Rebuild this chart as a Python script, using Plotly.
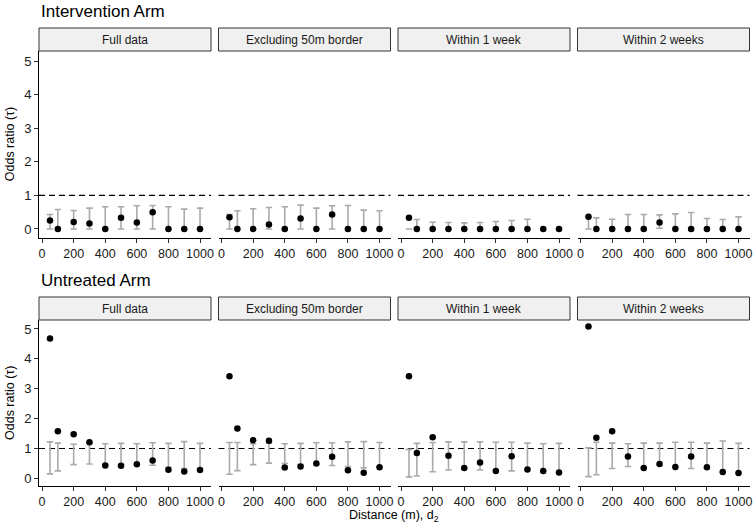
import plotly.graph_objects as go

# ---------------- data ----------------
distances = [50, 100, 200, 300, 400, 500, 600, 700, 800, 900, 1000]
x_ticks = [0, 200, 400, 600, 800, 1000]
y_ticks = [0, 1, 2, 3, 4, 5]
panels = ["Full data", "Excluding 50m border", "Within 1 week", "Within 2 weeks"]
arms = ["Intervention Arm", "Untreated Arm"]

# Intervention arm
int_full_est = [0.25, 0, 0.21, 0.16, 0, 0.33, 0.19, 0.50, 0, 0, 0]
int_full_lo = [0, 0, 0, 0, 0, 0, 0, 0, 0, 0, 0]
int_full_hi = [0.43, 0.58, 0.55, 0.62, 0.66, 0.66, 0.69, 0.70, 0.66, 0.59, 0.62]

int_excl_est = [0.35, 0, 0, 0.13, 0, 0.31, 0, 0.43, 0, 0, 0]
int_excl_lo = [0, 0, 0, 0, 0, 0, 0, 0, 0, 0, 0]
int_excl_hi = [0.43, 0.54, 0.60, 0.64, 0.66, 0.71, 0.62, 0.69, 0.70, 0.56, 0.54]

int_wk1_est = [0.33, 0, 0, 0, 0, 0, 0, 0, 0, 0, 0]
int_wk1_lo = [0, 0, 0, 0, 0, 0, 0, 0, 0, 0, 0]
int_wk1_hi = [0, 0.28, 0.20, 0.19, 0.18, 0.19, 0.22, 0.25, 0.29, 0, 0]

int_wk2_est = [0.36, 0, 0, 0, 0, 0.19, 0, 0, 0, 0, 0]
int_wk2_lo = [0, 0, 0, 0, 0, 0.02, 0, 0, 0, 0, 0]
int_wk2_hi = [0.35, 0.33, 0.29, 0.43, 0.43, 0.42, 0.45, 0.49, 0.31, 0.28, 0.36]

# Untreated arm
unt_full_est = [4.68, 1.58, 1.48, 1.21, 0.43, 0.42, 0.47, 0.60, 0.29, 0.23, 0.28]
unt_full_lo = [0.15, 0.25, 0.46, 0.48, 0.46, 0.46, 0.46, 0.44, 0.37, 0.33, 0.30]
unt_full_hi = [1.22, 1.18, 1.14, 1.18, 1.16, 1.17, 1.16, 1.19, 1.17, 1.23, 1.17]

unt_excl_est = [3.42, 1.67, 1.28, 1.26, 0.36, 0.40, 0.50, 0.72, 0.27, 0.19, 0.37]
unt_excl_lo = [0.14, 0.26, 0.46, 0.51, 0.50, 0.46, 0.47, 0.43, 0.40, 0.35, 0.37]
unt_excl_hi = [1.20, 1.20, 1.16, 1.18, 1.16, 1.17, 1.19, 1.19, 1.22, 1.23, 1.20]

unt_wk1_est = [3.42, 0.85, 1.38, 0.76, 0.35, 0.53, 0.25, 0.74, 0.30, 0.25, 0.20]
unt_wk1_lo = [0.05, 0.08, 0.22, 0.28, 0.33, 0.28, 0.25, 0.25, 0.29, 0.24, 0.19]
unt_wk1_hi = [0.97, 1.17, 1.20, 1.22, 1.22, 1.22, 1.21, 1.21, 1.18, 1.16, 1.17]

unt_wk2_est = [5.08, 1.36, 1.58, 0.73, 0.35, 0.48, 0.38, 0.73, 0.37, 0.21, 0.18]
unt_wk2_lo = [0.06, 0.12, 0.33, 0.40, 0.35, 0.45, 0.37, 0.33, 0.36, 0.21, 0.18]
unt_wk2_hi = [1.02, 1.21, 1.18, 1.16, 1.18, 1.18, 1.21, 1.21, 1.18, 1.25, 1.17]

series = [
    [(int_full_est, int_full_lo, int_full_hi), (int_excl_est, int_excl_lo, int_excl_hi),
     (int_wk1_est, int_wk1_lo, int_wk1_hi), (int_wk2_est, int_wk2_lo, int_wk2_hi)],
    [(unt_full_est, unt_full_lo, unt_full_hi), (unt_excl_est, unt_excl_lo, unt_excl_hi),
     (unt_wk1_est, unt_wk1_lo, unt_wk1_hi), (unt_wk2_est, unt_wk2_lo, unt_wk2_hi)],
]

# ---------------- layout geometry ----------------
W, H = 755, 526
ML, MR = 39, 5
PW = W - ML - MR  # plotting width in px
FONT = "Liberation Sans, Arial, Helvetica, sans-serif"

col_px = [(39, 211), (218.5, 390.5), (398, 570), (577.5, 749.5)]
row_px = [(51, 237.5), (320, 486)]      # panel top, bottom
strip_px = [(28, 51), (297, 320)]
title_y_px = [12, 280]

def px2x(p):
    return (p - ML) / PW

def px2y(p):
    return 1 - p / H

fig = go.Figure()
layout = dict(
    width=W, height=H,
    margin=dict(l=ML, r=MR, t=0, b=0),
    paper_bgcolor="white", plot_bgcolor="white",
    showlegend=False,
    font=dict(family=FONT, color="#1a1a1a"),
)
shapes = []
annotations = []

XR = [-19.5, 1069.5]
YR = [-0.255, 5.30]

for r in range(2):
    for c in range(4):
        k = r * 4 + c + 1
        xa = "xaxis" if k == 1 else f"xaxis{k}"
        ya = "yaxis" if k == 1 else f"yaxis{k}"
        xref = "x" if k == 1 else f"x{k}"
        yref = "y" if k == 1 else f"y{k}"
        layout[xa] = dict(
            domain=[px2x(col_px[c][0]), px2x(col_px[c][1])],
            anchor=yref, range=XR, tickvals=x_ticks,
            ticktext=[str(v) for v in x_ticks],
            showline=True, linecolor="black", linewidth=1,
            ticks="outside", ticklen=4, tickwidth=1, tickcolor="#333333",
            tickfont=dict(size=12.5, color="#1a1a1a", family=FONT),
            showgrid=False, zeroline=False, fixedrange=True,
        )
        layout[ya] = dict(
            domain=[px2y(row_px[r][1]), px2y(row_px[r][0])],
            anchor=xref, range=YR, tickvals=y_ticks,
            showline=(c == 0), linecolor="black", linewidth=1,
            ticks="outside" if c == 0 else "", ticklen=4, tickwidth=1,
            tickcolor="#333333", showticklabels=(c == 0),
            tickfont=dict(size=13, color="#1a1a1a", family=FONT),
            showgrid=False, zeroline=False, fixedrange=True,
        )
        est, lo, hi = series[r][c]
        # error bars (from lo to hi)
        fig.add_trace(go.Scatter(
            x=distances, y=lo, mode="markers",
            marker=dict(size=1, color="rgba(0,0,0,0)"),
            error_y=dict(type="data", symmetric=False,
                         array=[h - l for h, l in zip(hi, lo)],
                         arrayminus=[0] * len(lo),
                         color="#AAAAAA", thickness=1.6, width=3.2),
            xaxis=xref, yaxis=yref, hoverinfo="skip",
        ))
        # point estimates
        fig.add_trace(go.Scatter(
            x=distances, y=est, mode="markers",
            marker=dict(size=6.5, color="black"),
            xaxis=xref, yaxis=yref,
        ))
        # dashed reference line at 1
        shapes.append(dict(
            type="line", xref=f"{xref} domain", yref=yref,
            x0=0, x1=1, y0=1, y1=1, layer="below",
            line=dict(color="black", width=1.2, dash="6px,4px"),
        ))
        # strip
        shapes.append(dict(
            type="rect", xref="paper", yref="paper",
            x0=px2x(col_px[c][0]), x1=px2x(col_px[c][1]),
            y0=px2y(strip_px[r][1]), y1=px2y(strip_px[r][0]),
            fillcolor="#F0F0F0", line=dict(color="#333333", width=1),
        ))
        annotations.append(dict(
            text=panels[c], xref="paper", yref="paper",
            x=px2x((col_px[c][0] + col_px[c][1]) / 2),
            y=px2y((strip_px[r][0] + strip_px[r][1]) / 2),
            xanchor="center", yanchor="middle", showarrow=False,
            font=dict(size=12, color="#1a1a1a", family=FONT),
        ))
    # row title
    annotations.append(dict(
        text=arms[r], xref="paper", yref="paper",
        x=0, y=px2y(title_y_px[r]), xanchor="left", yanchor="middle",
        showarrow=False, font=dict(size=17, color="black", family=FONT),
    ))
    # y axis title
    annotations.append(dict(
        text="Odds ratio (τ)", xref="paper", yref="paper",
        x=px2x(10), y=px2y((row_px[r][0] + row_px[r][1]) / 2),
        xanchor="center", yanchor="middle", textangle=-90,
        showarrow=False, font=dict(size=12.5, color="black", family=FONT),
    ))

annotations.append(dict(
    text="Distance (m), d<sub>2</sub>", xref="paper", yref="paper",
    x=px2x(394), y=px2y(516), xanchor="center", yanchor="middle",
    showarrow=False, font=dict(size=12.5, color="black", family=FONT),
))

layout["shapes"] = shapes
layout["annotations"] = annotations
fig.update_layout(**layout)
fig.write_html(
    "out.html",
    config={"displayModeBar": False, "staticPlot": True},
    post_script="document.body.style.margin='0';document.body.style.padding='0';document.body.style.overflow='hidden';",
)
